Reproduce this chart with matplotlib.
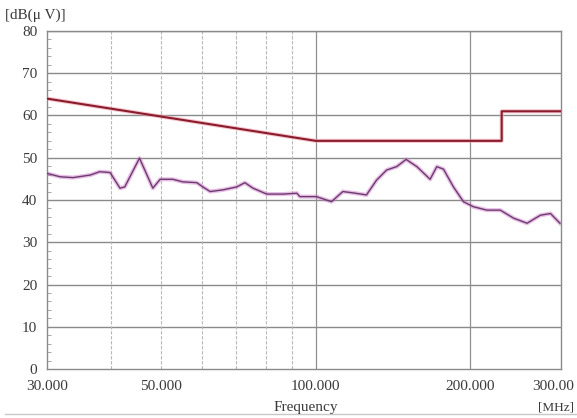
import matplotlib
matplotlib.use("Agg")
import matplotlib.pyplot as plt
from matplotlib.lines import Line2D
from matplotlib.transforms import ScaledTranslation
import numpy as np

# Limit line (MHz, dBuV)
limit_freq = [30, 100, 230, 230, 300]
limit_level = [64, 54, 54, 61, 61]

meas_freq = [30.0, 31.8, 33.7, 36.4, 38.0, 39.8, 41.6, 42.5, 45.4, 46.8, 48.2,
             49.8, 52.7, 55.1, 58.7, 60.3, 62.3, 66.0, 70.2, 72.8, 75.5, 80.3,
             86.3, 91.9, 93.1, 100.3, 107.3, 112.9, 118.0, 125.5, 131.3, 137.4,
             143.7, 149.9, 157.3, 166.9, 172.0, 177.2, 185.3, 193.8, 202.7,
             215.3, 228.6, 242.6, 257.7, 273.6, 286.2, 298.6]
meas_level = [46.3, 45.5, 45.3, 45.9, 46.7, 46.5, 42.8, 43.1, 49.9, 46.3, 42.8,
              44.9, 44.9, 44.3, 44.1, 43.1, 42.0, 42.4, 43.1, 44.1, 42.8, 41.4,
              41.4, 41.6, 40.8, 40.8, 39.6, 42.0, 41.7, 41.2, 44.7, 47.1,
              47.9, 49.6, 47.9, 44.9, 47.9, 47.3, 43.1, 39.6, 38.4,
              37.6, 37.6, 35.7, 34.5, 36.4, 36.8, 34.5]

xtick_vals = [30, 50, 100, 200, 300]
xtick_labels = ["30.000", "50.000", "100.000", "200.000", "300.00"]
minor_grid = [40, 50, 60, 70, 80, 90]
major_grid = [100, 200]
ytick_vals = [0, 10, 20, 30, 40, 50, 60, 70, 80]

serif = ["Liberation Serif", "DejaVu Serif"]
plt.rcParams["font.family"] = serif
txt_col = "#3a3a3a"
fs = 11

fig = plt.figure(figsize=(5.77, 4.18), dpi=100)
ax = fig.add_axes([47/577, 1 - 369/418, (561-47)/577, (369-31)/418])
ax.set_xscale("log")
ax.set_xlim(30, 300)
ax.set_ylim(0, 80)

# grid
for y in ytick_vals[1:]:
    ax.axhline(y, color="#8a8a8a", lw=1.0, zorder=1)
for x in minor_grid:
    ax.axvline(x, color="#b8b8b8", lw=0.8, ls=(0, (3, 1.5)), zorder=1)
for x in major_grid:
    ax.axvline(x, color="#909090", lw=0.9, zorder=1)

# measured trace
ax.plot(meas_freq, meas_level, color="#d070c8", lw=3.0, alpha=0.45, zorder=2)
ax.plot(meas_freq, meas_level, color="#6a3c6e", lw=1.0, zorder=3)

# limit line
ax.plot(limit_freq, limit_level, color="#f0a0b0", lw=3.0, alpha=0.6, zorder=4)
ax.plot(limit_freq, limit_level, color="#8a1c2c", lw=1.5, zorder=5)

for s in ax.spines.values():
    s.set_color("#8a8a8a")
    s.set_linewidth(1.0)

ax.set_xticks(xtick_vals)
ax.set_xticklabels(xtick_labels)
ax.xaxis.set_minor_locator(matplotlib.ticker.NullLocator())
ax.tick_params(axis="x", length=0, pad=8, labelsize=fs, labelcolor=txt_col)
ax.set_yticks(ytick_vals)
ax.set_yticks(np.arange(0, 81, 2), minor=True)
ax.tick_params(axis="y", which="major", length=0, pad=7, labelsize=fs, labelcolor=txt_col)
ax.tick_params(axis="y", which="minor", direction="in", length=3, color="#9a9a9a")

# last x label sits at the right edge, shifted left slightly like the reference
last = ax.get_xticklabels()[-1]
last.set_transform(last.get_transform() + ScaledTranslation(-8/100, 0, fig.dpi_scale_trans))

fig.text(5/577, 1 - 15/418, "[dB(μ V)]", fontsize=fs, color=txt_col, va="center", ha="left")
fig.text(306/577, 1 - 407/418, "Frequency", fontsize=fs, color=txt_col, va="center", ha="center")
fig.text(574/577, 1 - 407/418, "[MHz]", fontsize=fs - 1.5, color=txt_col, va="center", ha="right")

fig.add_artist(Line2D([5/577, 1], [1 - 414/418, 1 - 414/418], color="#c8c8c8", lw=1.0,
                      transform=fig.transFigure))

fig.savefig("out.png", dpi=100)
